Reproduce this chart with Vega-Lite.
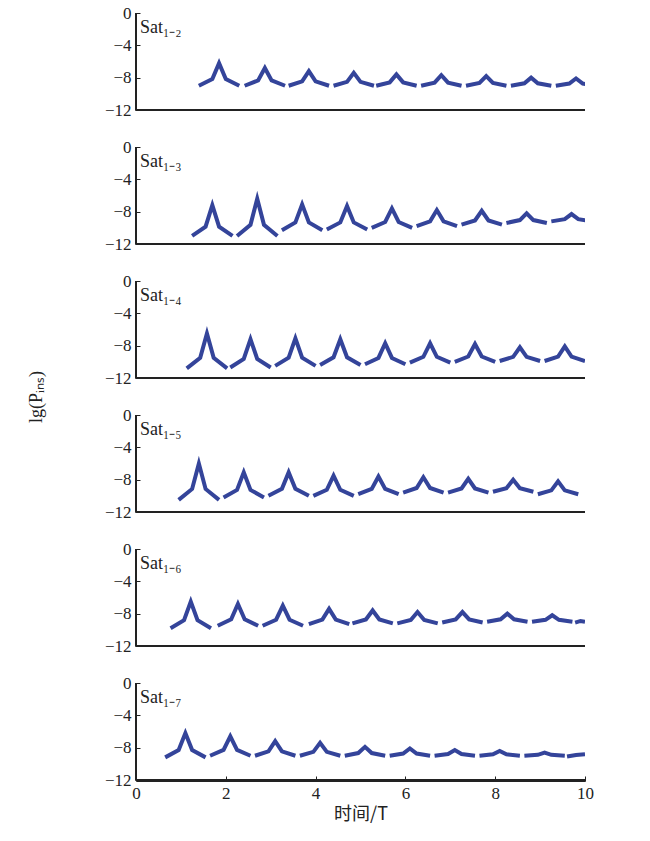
{
  "$schema": "https://vega.github.io/schema/vega-lite/v6.json",
  "background": "white",
  "padding": {"left": 28, "top": 4, "right": 60, "bottom": 10},
  "config": {
    "font": "Liberation Serif",
    "view": {"stroke": null},
    "axis": {"labelFont": "Liberation Serif", "titleFont": "Liberation Serif", "labelFontSize": 17, "titleFontSize": 18, "titleFontWeight": "normal", "labelColor": "#222", "titleColor": "#222", "domainColor": "#222", "tickColor": "#222", "grid": false, "labelOverlap": false, "labelFlush": false, "domain": true, "domainWidth": 1, "ticks": true, "tickWidth": 1, "tickSize": -5, "labelPadding": 9}
  },
  "data": {"values": [
    {"p":"Sat₁₋₂","c":1,"t":1.4,"v":-9},{"p":"Sat₁₋₂","c":1,"t":1.7,"v":-8.16},{"p":"Sat₁₋₂","c":1,"t":1.85,"v":-6.2},{"p":"Sat₁₋₂","c":1,"t":2.0,"v":-8.16},{"p":"Sat₁₋₂","c":1,"t":2.3,"v":-9},
    {"p":"Sat₁₋₂","c":2,"t":2.42,"v":-9},{"p":"Sat₁₋₂","c":2,"t":2.72,"v":-8.34},{"p":"Sat₁₋₂","c":2,"t":2.87,"v":-6.8},{"p":"Sat₁₋₂","c":2,"t":3.02,"v":-8.34},{"p":"Sat₁₋₂","c":2,"t":3.32,"v":-9},
    {"p":"Sat₁₋₂","c":3,"t":3.4,"v":-9},{"p":"Sat₁₋₂","c":3,"t":3.7,"v":-8.46},{"p":"Sat₁₋₂","c":3,"t":3.85,"v":-7.2},{"p":"Sat₁₋₂","c":3,"t":4.0,"v":-8.46},{"p":"Sat₁₋₂","c":3,"t":4.3,"v":-9},
    {"p":"Sat₁₋₂","c":4,"t":4.4,"v":-9},{"p":"Sat₁₋₂","c":4,"t":4.7,"v":-8.52},{"p":"Sat₁₋₂","c":4,"t":4.85,"v":-7.4},{"p":"Sat₁₋₂","c":4,"t":5.0,"v":-8.52},{"p":"Sat₁₋₂","c":4,"t":5.3,"v":-9},
    {"p":"Sat₁₋₂","c":5,"t":5.35,"v":-9},{"p":"Sat₁₋₂","c":5,"t":5.65,"v":-8.58},{"p":"Sat₁₋₂","c":5,"t":5.8,"v":-7.6},{"p":"Sat₁₋₂","c":5,"t":5.95,"v":-8.58},{"p":"Sat₁₋₂","c":5,"t":6.25,"v":-9},
    {"p":"Sat₁₋₂","c":6,"t":6.35,"v":-9},{"p":"Sat₁₋₂","c":6,"t":6.65,"v":-8.61},{"p":"Sat₁₋₂","c":6,"t":6.8,"v":-7.7},{"p":"Sat₁₋₂","c":6,"t":6.95,"v":-8.61},{"p":"Sat₁₋₂","c":6,"t":7.25,"v":-9},
    {"p":"Sat₁₋₂","c":7,"t":7.35,"v":-9},{"p":"Sat₁₋₂","c":7,"t":7.65,"v":-8.64},{"p":"Sat₁₋₂","c":7,"t":7.8,"v":-7.8},{"p":"Sat₁₋₂","c":7,"t":7.95,"v":-8.64},{"p":"Sat₁₋₂","c":7,"t":8.25,"v":-9},
    {"p":"Sat₁₋₂","c":8,"t":8.35,"v":-9},{"p":"Sat₁₋₂","c":8,"t":8.65,"v":-8.7},{"p":"Sat₁₋₂","c":8,"t":8.8,"v":-8},{"p":"Sat₁₋₂","c":8,"t":8.95,"v":-8.7},{"p":"Sat₁₋₂","c":8,"t":9.25,"v":-9},
    {"p":"Sat₁₋₂","c":9,"t":9.35,"v":-9},{"p":"Sat₁₋₂","c":9,"t":9.65,"v":-8.73},{"p":"Sat₁₋₂","c":9,"t":9.8,"v":-8.1},{"p":"Sat₁₋₂","c":9,"t":9.95,"v":-8.73},{"p":"Sat₁₋₂","c":9,"t":10.25,"v":-9},

    {"p":"Sat₁₋₃","c":1,"t":1.25,"v":-11},{"p":"Sat₁₋₃","c":1,"t":1.55,"v":-9.86},{"p":"Sat₁₋₃","c":1,"t":1.7,"v":-7.2},{"p":"Sat₁₋₃","c":1,"t":1.85,"v":-9.86},{"p":"Sat₁₋₃","c":1,"t":2.15,"v":-11},
    {"p":"Sat₁₋₃","c":2,"t":2.25,"v":-11},{"p":"Sat₁₋₃","c":2,"t":2.55,"v":-9.62},{"p":"Sat₁₋₃","c":2,"t":2.7,"v":-6.4},{"p":"Sat₁₋₃","c":2,"t":2.85,"v":-9.62},{"p":"Sat₁₋₃","c":2,"t":3.15,"v":-11},
    {"p":"Sat₁₋₃","c":3,"t":3.25,"v":-10.3},{"p":"Sat₁₋₃","c":3,"t":3.55,"v":-9.34},{"p":"Sat₁₋₃","c":3,"t":3.7,"v":-7.1},{"p":"Sat₁₋₃","c":3,"t":3.85,"v":-9.34},{"p":"Sat₁₋₃","c":3,"t":4.15,"v":-10.3},
    {"p":"Sat₁₋₃","c":4,"t":4.25,"v":-10.2},{"p":"Sat₁₋₃","c":4,"t":4.55,"v":-9.33},{"p":"Sat₁₋₃","c":4,"t":4.7,"v":-7.3},{"p":"Sat₁₋₃","c":4,"t":4.85,"v":-9.33},{"p":"Sat₁₋₃","c":4,"t":5.15,"v":-10.2},
    {"p":"Sat₁₋₃","c":5,"t":5.25,"v":-10},{"p":"Sat₁₋₃","c":5,"t":5.55,"v":-9.28},{"p":"Sat₁₋₃","c":5,"t":5.7,"v":-7.6},{"p":"Sat₁₋₃","c":5,"t":5.85,"v":-9.28},{"p":"Sat₁₋₃","c":5,"t":6.15,"v":-10},
    {"p":"Sat₁₋₃","c":6,"t":6.25,"v":-9.8},{"p":"Sat₁₋₃","c":6,"t":6.55,"v":-9.2},{"p":"Sat₁₋₃","c":6,"t":6.7,"v":-7.8},{"p":"Sat₁₋₃","c":6,"t":6.85,"v":-9.2},{"p":"Sat₁₋₃","c":6,"t":7.15,"v":-9.8},
    {"p":"Sat₁₋₃","c":7,"t":7.25,"v":-9.6},{"p":"Sat₁₋₃","c":7,"t":7.55,"v":-9.09},{"p":"Sat₁₋₃","c":7,"t":7.7,"v":-7.9},{"p":"Sat₁₋₃","c":7,"t":7.85,"v":-9.09},{"p":"Sat₁₋₃","c":7,"t":8.15,"v":-9.6},
    {"p":"Sat₁₋₃","c":8,"t":8.25,"v":-9.4},{"p":"Sat₁₋₃","c":8,"t":8.55,"v":-9.04},{"p":"Sat₁₋₃","c":8,"t":8.7,"v":-8.2},{"p":"Sat₁₋₃","c":8,"t":8.85,"v":-9.04},{"p":"Sat₁₋₃","c":8,"t":9.15,"v":-9.4},
    {"p":"Sat₁₋₃","c":9,"t":9.25,"v":-9.2},{"p":"Sat₁₋₃","c":9,"t":9.55,"v":-8.93},{"p":"Sat₁₋₃","c":9,"t":9.7,"v":-8.3},{"p":"Sat₁₋₃","c":9,"t":9.85,"v":-8.93},{"p":"Sat₁₋₃","c":9,"t":10.15,"v":-9.2},

    {"p":"Sat₁₋₄","c":1,"t":1.13,"v":-10.8},{"p":"Sat₁₋₄","c":1,"t":1.43,"v":-9.51},{"p":"Sat₁₋₄","c":1,"t":1.58,"v":-6.5},{"p":"Sat₁₋₄","c":1,"t":1.73,"v":-9.51},{"p":"Sat₁₋₄","c":1,"t":2.03,"v":-10.8},
    {"p":"Sat₁₋₄","c":2,"t":2.1,"v":-10.7},{"p":"Sat₁₋₄","c":2,"t":2.4,"v":-9.65},{"p":"Sat₁₋₄","c":2,"t":2.55,"v":-7.2},{"p":"Sat₁₋₄","c":2,"t":2.7,"v":-9.65},{"p":"Sat₁₋₄","c":2,"t":3.0,"v":-10.7},
    {"p":"Sat₁₋₄","c":3,"t":3.1,"v":-10.5},{"p":"Sat₁₋₄","c":3,"t":3.4,"v":-9.48},{"p":"Sat₁₋₄","c":3,"t":3.55,"v":-7.1},{"p":"Sat₁₋₄","c":3,"t":3.7,"v":-9.48},{"p":"Sat₁₋₄","c":3,"t":4.0,"v":-10.5},
    {"p":"Sat₁₋₄","c":4,"t":4.1,"v":-10.4},{"p":"Sat₁₋₄","c":4,"t":4.4,"v":-9.44},{"p":"Sat₁₋₄","c":4,"t":4.55,"v":-7.2},{"p":"Sat₁₋₄","c":4,"t":4.7,"v":-9.44},{"p":"Sat₁₋₄","c":4,"t":5.0,"v":-10.4},
    {"p":"Sat₁₋₄","c":5,"t":5.1,"v":-10.3},{"p":"Sat₁₋₄","c":5,"t":5.4,"v":-9.52},{"p":"Sat₁₋₄","c":5,"t":5.55,"v":-7.7},{"p":"Sat₁₋₄","c":5,"t":5.7,"v":-9.52},{"p":"Sat₁₋₄","c":5,"t":6.0,"v":-10.3},
    {"p":"Sat₁₋₄","c":6,"t":6.1,"v":-10.1},{"p":"Sat₁₋₄","c":6,"t":6.4,"v":-9.38},{"p":"Sat₁₋₄","c":6,"t":6.55,"v":-7.7},{"p":"Sat₁₋₄","c":6,"t":6.7,"v":-9.38},{"p":"Sat₁₋₄","c":6,"t":7.0,"v":-10.1},
    {"p":"Sat₁₋₄","c":7,"t":7.1,"v":-10},{"p":"Sat₁₋₄","c":7,"t":7.4,"v":-9.34},{"p":"Sat₁₋₄","c":7,"t":7.55,"v":-7.8},{"p":"Sat₁₋₄","c":7,"t":7.7,"v":-9.34},{"p":"Sat₁₋₄","c":7,"t":8.0,"v":-10},
    {"p":"Sat₁₋₄","c":8,"t":8.1,"v":-9.9},{"p":"Sat₁₋₄","c":8,"t":8.4,"v":-9.39},{"p":"Sat₁₋₄","c":8,"t":8.55,"v":-8.2},{"p":"Sat₁₋₄","c":8,"t":8.7,"v":-9.39},{"p":"Sat₁₋₄","c":8,"t":9.0,"v":-9.9},
    {"p":"Sat₁₋₄","c":9,"t":9.1,"v":-9.9},{"p":"Sat₁₋₄","c":9,"t":9.4,"v":-9.36},{"p":"Sat₁₋₄","c":9,"t":9.55,"v":-8.1},{"p":"Sat₁₋₄","c":9,"t":9.7,"v":-9.36},{"p":"Sat₁₋₄","c":9,"t":10.0,"v":-9.9},

    {"p":"Sat₁₋₅","c":1,"t":0.95,"v":-10.5},{"p":"Sat₁₋₅","c":1,"t":1.25,"v":-9.15},{"p":"Sat₁₋₅","c":1,"t":1.4,"v":-6},{"p":"Sat₁₋₅","c":1,"t":1.55,"v":-9.15},{"p":"Sat₁₋₅","c":1,"t":1.85,"v":-10.5},
    {"p":"Sat₁₋₅","c":2,"t":1.95,"v":-10.2},{"p":"Sat₁₋₅","c":2,"t":2.25,"v":-9.27},{"p":"Sat₁₋₅","c":2,"t":2.4,"v":-7.1},{"p":"Sat₁₋₅","c":2,"t":2.55,"v":-9.27},{"p":"Sat₁₋₅","c":2,"t":2.85,"v":-10.2},
    {"p":"Sat₁₋₅","c":3,"t":2.95,"v":-10},{"p":"Sat₁₋₅","c":3,"t":3.25,"v":-9.13},{"p":"Sat₁₋₅","c":3,"t":3.4,"v":-7.1},{"p":"Sat₁₋₅","c":3,"t":3.55,"v":-9.13},{"p":"Sat₁₋₅","c":3,"t":3.85,"v":-10},
    {"p":"Sat₁₋₅","c":4,"t":3.95,"v":-10},{"p":"Sat₁₋₅","c":4,"t":4.25,"v":-9.25},{"p":"Sat₁₋₅","c":4,"t":4.4,"v":-7.5},{"p":"Sat₁₋₅","c":4,"t":4.55,"v":-9.25},{"p":"Sat₁₋₅","c":4,"t":4.85,"v":-10},
    {"p":"Sat₁₋₅","c":5,"t":4.95,"v":-9.8},{"p":"Sat₁₋₅","c":5,"t":5.25,"v":-9.14},{"p":"Sat₁₋₅","c":5,"t":5.4,"v":-7.6},{"p":"Sat₁₋₅","c":5,"t":5.55,"v":-9.14},{"p":"Sat₁₋₅","c":5,"t":5.85,"v":-9.8},
    {"p":"Sat₁₋₅","c":6,"t":5.95,"v":-9.6},{"p":"Sat₁₋₅","c":6,"t":6.25,"v":-9.03},{"p":"Sat₁₋₅","c":6,"t":6.4,"v":-7.7},{"p":"Sat₁₋₅","c":6,"t":6.55,"v":-9.03},{"p":"Sat₁₋₅","c":6,"t":6.85,"v":-9.6},
    {"p":"Sat₁₋₅","c":7,"t":6.95,"v":-9.6},{"p":"Sat₁₋₅","c":7,"t":7.25,"v":-9.09},{"p":"Sat₁₋₅","c":7,"t":7.4,"v":-7.9},{"p":"Sat₁₋₅","c":7,"t":7.55,"v":-9.09},{"p":"Sat₁₋₅","c":7,"t":7.85,"v":-9.6},
    {"p":"Sat₁₋₅","c":8,"t":7.95,"v":-9.5},{"p":"Sat₁₋₅","c":8,"t":8.25,"v":-9.05},{"p":"Sat₁₋₅","c":8,"t":8.4,"v":-8},{"p":"Sat₁₋₅","c":8,"t":8.55,"v":-9.05},{"p":"Sat₁₋₅","c":8,"t":8.85,"v":-9.5},
    {"p":"Sat₁₋₅","c":9,"t":8.95,"v":-9.8},{"p":"Sat₁₋₅","c":9,"t":9.25,"v":-9.32},{"p":"Sat₁₋₅","c":9,"t":9.4,"v":-8.2},{"p":"Sat₁₋₅","c":9,"t":9.55,"v":-9.32},{"p":"Sat₁₋₅","c":9,"t":9.85,"v":-9.8},

    {"p":"Sat₁₋₆","c":1,"t":0.77,"v":-9.8},{"p":"Sat₁₋₆","c":1,"t":1.07,"v":-8.81},{"p":"Sat₁₋₆","c":1,"t":1.22,"v":-6.5},{"p":"Sat₁₋₆","c":1,"t":1.37,"v":-8.81},{"p":"Sat₁₋₆","c":1,"t":1.67,"v":-9.8},
    {"p":"Sat₁₋₆","c":2,"t":1.82,"v":-9.5},{"p":"Sat₁₋₆","c":2,"t":2.12,"v":-8.69},{"p":"Sat₁₋₆","c":2,"t":2.27,"v":-6.8},{"p":"Sat₁₋₆","c":2,"t":2.42,"v":-8.69},{"p":"Sat₁₋₆","c":2,"t":2.72,"v":-9.5},
    {"p":"Sat₁₋₆","c":3,"t":2.82,"v":-9.5},{"p":"Sat₁₋₆","c":3,"t":3.12,"v":-8.75},{"p":"Sat₁₋₆","c":3,"t":3.27,"v":-7},{"p":"Sat₁₋₆","c":3,"t":3.42,"v":-8.75},{"p":"Sat₁₋₆","c":3,"t":3.72,"v":-9.5},
    {"p":"Sat₁₋₆","c":4,"t":3.85,"v":-9.3},{"p":"Sat₁₋₆","c":4,"t":4.15,"v":-8.73},{"p":"Sat₁₋₆","c":4,"t":4.3,"v":-7.4},{"p":"Sat₁₋₆","c":4,"t":4.45,"v":-8.73},{"p":"Sat₁₋₆","c":4,"t":4.75,"v":-9.3},
    {"p":"Sat₁₋₆","c":5,"t":4.82,"v":-9.2},{"p":"Sat₁₋₆","c":5,"t":5.12,"v":-8.72},{"p":"Sat₁₋₆","c":5,"t":5.27,"v":-7.6},{"p":"Sat₁₋₆","c":5,"t":5.42,"v":-8.72},{"p":"Sat₁₋₆","c":5,"t":5.72,"v":-9.2},
    {"p":"Sat₁₋₆","c":6,"t":5.82,"v":-9.2},{"p":"Sat₁₋₆","c":6,"t":6.12,"v":-8.78},{"p":"Sat₁₋₆","c":6,"t":6.27,"v":-7.8},{"p":"Sat₁₋₆","c":6,"t":6.42,"v":-8.78},{"p":"Sat₁₋₆","c":6,"t":6.72,"v":-9.2},
    {"p":"Sat₁₋₆","c":7,"t":6.82,"v":-9.1},{"p":"Sat₁₋₆","c":7,"t":7.12,"v":-8.71},{"p":"Sat₁₋₆","c":7,"t":7.27,"v":-7.8},{"p":"Sat₁₋₆","c":7,"t":7.42,"v":-8.71},{"p":"Sat₁₋₆","c":7,"t":7.72,"v":-9.1},
    {"p":"Sat₁₋₆","c":8,"t":7.82,"v":-9},{"p":"Sat₁₋₆","c":8,"t":8.12,"v":-8.7},{"p":"Sat₁₋₆","c":8,"t":8.27,"v":-8},{"p":"Sat₁₋₆","c":8,"t":8.42,"v":-8.7},{"p":"Sat₁₋₆","c":8,"t":8.72,"v":-9},
    {"p":"Sat₁₋₆","c":9,"t":8.82,"v":-9},{"p":"Sat₁₋₆","c":9,"t":9.12,"v":-8.76},{"p":"Sat₁₋₆","c":9,"t":9.27,"v":-8.2},{"p":"Sat₁₋₆","c":9,"t":9.42,"v":-8.76},{"p":"Sat₁₋₆","c":9,"t":9.72,"v":-9},
    {"p":"Sat₁₋₆","c":10,"t":9.78,"v":-9.1},{"p":"Sat₁₋₆","c":10,"t":9.9,"v":-8.9},{"p":"Sat₁₋₆","c":10,"t":10.0,"v":-9},

    {"p":"Sat₁₋₇","c":1,"t":0.65,"v":-9.2},{"p":"Sat₁₋₇","c":1,"t":0.95,"v":-8.3},{"p":"Sat₁₋₇","c":1,"t":1.1,"v":-6.2},{"p":"Sat₁₋₇","c":1,"t":1.25,"v":-8.3},{"p":"Sat₁₋₇","c":1,"t":1.55,"v":-9.2},
    {"p":"Sat₁₋₇","c":2,"t":1.65,"v":-9},{"p":"Sat₁₋₇","c":2,"t":1.95,"v":-8.28},{"p":"Sat₁₋₇","c":2,"t":2.1,"v":-6.6},{"p":"Sat₁₋₇","c":2,"t":2.25,"v":-8.28},{"p":"Sat₁₋₇","c":2,"t":2.55,"v":-9},
    {"p":"Sat₁₋₇","c":3,"t":2.65,"v":-9},{"p":"Sat₁₋₇","c":3,"t":2.95,"v":-8.46},{"p":"Sat₁₋₇","c":3,"t":3.1,"v":-7.2},{"p":"Sat₁₋₇","c":3,"t":3.25,"v":-8.46},{"p":"Sat₁₋₇","c":3,"t":3.55,"v":-9},
    {"p":"Sat₁₋₇","c":4,"t":3.65,"v":-9},{"p":"Sat₁₋₇","c":4,"t":3.95,"v":-8.52},{"p":"Sat₁₋₇","c":4,"t":4.1,"v":-7.4},{"p":"Sat₁₋₇","c":4,"t":4.25,"v":-8.52},{"p":"Sat₁₋₇","c":4,"t":4.55,"v":-9},
    {"p":"Sat₁₋₇","c":5,"t":4.65,"v":-9},{"p":"Sat₁₋₇","c":5,"t":4.95,"v":-8.67},{"p":"Sat₁₋₇","c":5,"t":5.1,"v":-7.9},{"p":"Sat₁₋₇","c":5,"t":5.25,"v":-8.67},{"p":"Sat₁₋₇","c":5,"t":5.55,"v":-9},
    {"p":"Sat₁₋₇","c":6,"t":5.65,"v":-9},{"p":"Sat₁₋₇","c":6,"t":5.95,"v":-8.73},{"p":"Sat₁₋₇","c":6,"t":6.1,"v":-8.1},{"p":"Sat₁₋₇","c":6,"t":6.25,"v":-8.73},{"p":"Sat₁₋₇","c":6,"t":6.55,"v":-9},
    {"p":"Sat₁₋₇","c":7,"t":6.65,"v":-9},{"p":"Sat₁₋₇","c":7,"t":6.95,"v":-8.79},{"p":"Sat₁₋₇","c":7,"t":7.1,"v":-8.3},{"p":"Sat₁₋₇","c":7,"t":7.25,"v":-8.79},{"p":"Sat₁₋₇","c":7,"t":7.55,"v":-9},
    {"p":"Sat₁₋₇","c":8,"t":7.65,"v":-9},{"p":"Sat₁₋₇","c":8,"t":7.95,"v":-8.82},{"p":"Sat₁₋₇","c":8,"t":8.1,"v":-8.4},{"p":"Sat₁₋₇","c":8,"t":8.25,"v":-8.82},{"p":"Sat₁₋₇","c":8,"t":8.55,"v":-9},
    {"p":"Sat₁₋₇","c":9,"t":8.65,"v":-9},{"p":"Sat₁₋₇","c":9,"t":8.95,"v":-8.88},{"p":"Sat₁₋₇","c":9,"t":9.1,"v":-8.6},{"p":"Sat₁₋₇","c":9,"t":9.25,"v":-8.88},{"p":"Sat₁₋₇","c":9,"t":9.55,"v":-9},
    {"p":"Sat₁₋₇","c":10,"t":9.6,"v":-9.1},{"p":"Sat₁₋₇","c":10,"t":9.8,"v":-8.9},{"p":"Sat₁₋₇","c":10,"t":10.0,"v":-8.8}
  ]},
  "facet": {
    "row": {"field": "p", "type": "nominal", "sort": "ascending",
      "header": {"labels": false, "title": "lg(Pᵢₙₛ)", "titleFont": "Liberation Serif", "titleFontSize": 18, "titleFontWeight": "normal", "titleColor": "#222", "titlePadding": 48}}
  },
  "spacing": 35,
  "spec": {
    "width": 449,
    "height": 97,
    "layer": [
      {
        "mark": {"type": "line", "color": "#34449a", "strokeWidth": 4, "clip": true, "strokeJoin": "miter"},
        "encoding": {
          "x": {"field": "t", "type": "quantitative", "scale": {"domain": [0, 10], "nice": false}, "axis": {"values": [0, 2, 4, 6, 8, 10], "title": "时间/T", "titleFont": "Noto Sans CJK SC"}},
          "y": {"field": "v", "type": "quantitative", "scale": {"domain": [-12, 0], "nice": false, "zero": false}, "axis": {"values": [0, -4, -8, -12], "title": null}},
          "detail": {"field": "c", "type": "nominal"}
        }
      },
      {
        "mark": {"type": "rule", "color": "#222", "strokeWidth": 1},
        "encoding": {"y": {"datum": -12, "axis": {"values": [0, -4, -8, -12], "title": null}}}
      },
      {
        "mark": {"type": "rule", "color": "#222", "strokeWidth": 1},
        "encoding": {"x": {"datum": 0, "axis": {"values": [0, 2, 4, 6, 8, 10], "title": "时间/T", "titleFont": "Noto Sans CJK SC"}}}
      },
      {
        "transform": [{"aggregate": [{"op": "count", "as": "n"}], "groupby": ["p"]}],
        "mark": {"type": "text", "align": "left", "baseline": "middle", "fontSize": 18, "color": "#222", "dx": 4},
        "encoding": {
          "x": {"datum": 0, "axis": {"values": [0, 2, 4, 6, 8, 10], "title": "时间/T", "titleFont": "Noto Sans CJK SC"}},
          "y": {"datum": -1.8, "axis": {"values": [0, -4, -8, -12], "title": null}},
          "text": {"field": "p", "type": "nominal"}
        }
      }
    ]
  }
}
